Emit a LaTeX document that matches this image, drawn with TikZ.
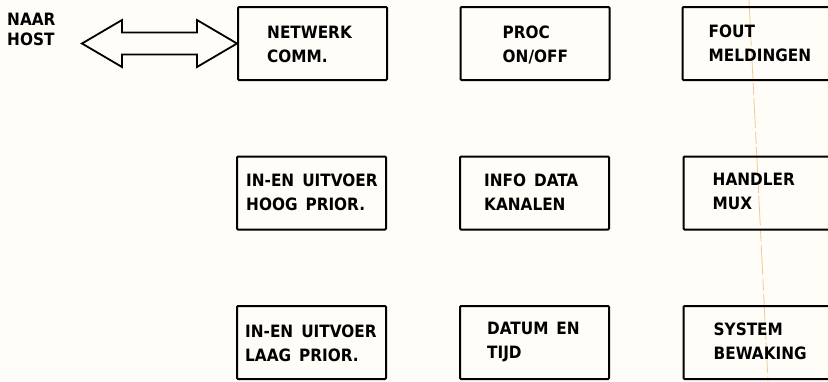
\documentclass[tikz,border=0pt]{standalone}
\usepackage{fontspec}
\setmainfont{DejaVu Sans Condensed}
\usetikzlibrary{calc}
\definecolor{paper}{RGB}{255,253,247}
\definecolor{fold}{RGB}{240,200,150}
\newcommand{\widespace}{\spaceskip=8pt\relax}
\tikzset{
  blk/.style={draw=black, line width=2pt, rounded corners=1pt, minimum width=149pt, minimum height=73pt, inner sep=0pt},
  lbl/.style={anchor=north west, inner sep=0pt, align=left, font=\bfseries\fontsize{17}{24}\selectfont\widespace},
  arr/.style={draw=black, line width=1.8pt, line join=miter}
}
\begin{document}
\begin{tikzpicture}[x=1pt,y=-1pt]
\fill[paper] (0,0) rectangle (828,381);
\useasboundingbox (0,0) rectangle (828,381);
\draw[fold, line width=0.8pt, dash pattern=on 30pt off 4pt on 12pt off 3pt] (749,0) -- (768,381);
% boxes
\node[blk] (net) at (312.5,43.5) {};
\node[blk] (proc) at (535,43.5) {};
\node[blk] (fout) at (757,43.5) {};
\node[blk] (hoog) at (311.5,193) {};
\node[blk] (info) at (534.5,193) {};
\node[blk] (mux) at (758,193) {};
\node[blk] (laag) at (311.5,342.5) {};
\node[blk] (tijd) at (534.5,342.5) {};
\node[blk] (bew) at (758,342.5) {};
% labels
\node[lbl] (tnet) at ($(net.north west)+(30,20)$) {NETWERK\\COMM.};
\node[lbl] (tproc) at ($(proc.north west)+(43,20)$) {PROC\\ON/OFF};
\node[lbl] (tfout) at ($(fout.north west)+(27,19)$) {FOUT\\MELDINGEN};
\node[lbl] (thoog) at ($(hoog.north west)+(10,18)$) {IN-EN UITVOER\\HOOG PRIOR.};
\node[lbl] (tinfo) at ($(info.north west)+(25,18)$) {INFO DATA\\KANALEN};
\node[lbl] (tmux) at ($(mux.north west)+(30,17)$) {HANDLER\\MUX};
\node[lbl] (tlaag) at ($(laag.north west)+(9,20)$) {IN-EN UITVOER\\LAAG PRIOR.};
\node[lbl] (ttijd) at ($(tijd.north west)+(28,17)$) {DATUM EN\\TIJD};
\node[lbl] (tbew) at ($(bew.north west)+(31,18)$) {SYSTEM\\BEWAKING};
% host label
\node[lbl, font=\bfseries\fontsize{17}{20}\selectfont] (host) at (7,13) {NAAR\\HOST};
\coordinate (hosttip) at (82,43.5);
% double arrow
\draw[arr] (hosttip) -- ($(hosttip)+(40,-23.5)$) -- ($(hosttip)+(40,-11)$)
  -- ($(net.west)+(-40,-11)$) -- ($(net.west)+(-40,-23.5)$) -- (net.west)
  -- ($(net.west)+(-40,23.5)$) -- ($(net.west)+(-40,11)$)
  -- ($(hosttip)+(40,11)$) -- ($(hosttip)+(40,23.5)$) -- cycle;
\end{tikzpicture}
\end{document}
